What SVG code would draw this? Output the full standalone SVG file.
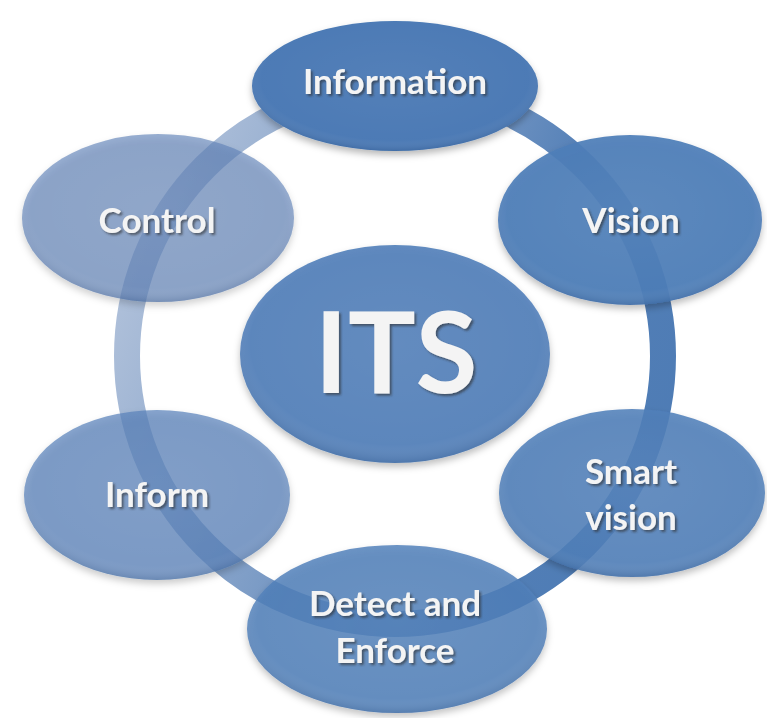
<svg xmlns="http://www.w3.org/2000/svg" width="767" height="718" viewBox="0 0 767 718">
  <defs>
    <linearGradient id="ringGrad" gradientUnits="userSpaceOnUse" x1="120" y1="200" x2="670" y2="420">
      <stop offset="0" stop-color="#5a7db2" stop-opacity="0.45"/>
      <stop offset="0.45" stop-color="#4a76b0" stop-opacity="0.72"/>
      <stop offset="0.7" stop-color="#4575b1" stop-opacity="0.92"/>
      <stop offset="1" stop-color="#4575b1" stop-opacity="0.95"/>
    </linearGradient>
    <radialGradient id="sheen" cx="0.5" cy="0.45" r="0.55">
      <stop offset="0" stop-color="#ffffff" stop-opacity="0.06"/>
      <stop offset="0.85" stop-color="#ffffff" stop-opacity="0.02"/>
      <stop offset="1" stop-color="#1c3a66" stop-opacity="0.18"/>
    </radialGradient>
    <filter id="shadow" x="-20%" y="-20%" width="140%" height="150%">
      <feDropShadow dx="0" dy="4" stdDeviation="3.5" flood-color="#000000" flood-opacity="0.28"/>
    </filter>
    <filter id="tshadow" x="-10%" y="-20%" width="130%" height="150%">
      <feDropShadow dx="2" dy="2" stdDeviation="1" flood-color="#2a2a2a" flood-opacity="0.6"/>
    </filter>
  </defs>
  <style>
    .lbl { font-family: Lato, "Open Sans", "Liberation Sans", sans-serif; font-weight: bold; font-size: 35px; fill: #f4f4f4; text-anchor: middle; filter: url(#tshadow); }
    .big { font-size: 113px; }
    .sheen { fill: url(#sheen); }
    .node { filter: url(#shadow); }
  </style>
  <rect width="767" height="718" fill="#ffffff"/>

  <g id="connectors">
    <circle cx="395" cy="356" r="268" fill="none" stroke="url(#ringGrad)" stroke-width="26"/>
  </g>

  <g id="node-control">
    <ellipse class="node" cx="158" cy="218" rx="136" ry="84" fill="#5a7fb5" fill-opacity="0.64"/>
    <ellipse class="sheen" cx="158" cy="218" rx="136" ry="84"/>
    <text class="lbl" x="157" y="233">Control</text>
  </g>

  <g id="node-inform">
    <ellipse class="node" cx="157" cy="495" rx="133" ry="85" fill="#5580b8" fill-opacity="0.72"/>
    <ellipse class="sheen" cx="157" cy="495" rx="133" ry="85"/>
    <text class="lbl" x="157" y="507">Inform</text>
  </g>

  <g id="node-detect">
    <ellipse class="node" cx="397" cy="629" rx="150" ry="84" fill="#4c7cb8" fill-opacity="0.83"/>
    <ellipse class="sheen" cx="397" cy="629" rx="150" ry="84"/>
    <text class="lbl" x="395" y="616">Detect and</text>
    <text class="lbl" x="395" y="663">Enforce</text>
  </g>

  <g id="node-smart-vision">
    <ellipse class="node" cx="632" cy="493" rx="133" ry="84" fill="#4c7cb8" fill-opacity="0.87"/>
    <ellipse class="sheen" cx="632" cy="493" rx="133" ry="84"/>
    <text class="lbl" x="631" y="484">Smart</text>
    <text class="lbl" x="631" y="530">vision</text>
  </g>

  <g id="node-vision">
    <ellipse class="node" cx="630" cy="220" rx="132" ry="85" fill="#4a7bb7" fill-opacity="0.93"/>
    <ellipse class="sheen" cx="630" cy="220" rx="132" ry="85"/>
    <text class="lbl" x="631" y="233">Vision</text>
  </g>

  <g id="node-information">
    <ellipse class="node" cx="395" cy="86" rx="143" ry="65" fill="#4878b4"/>
    <ellipse class="sheen" cx="395" cy="86" rx="143" ry="65"/>
    <text class="lbl" x="395" y="94">Information</text>
  </g>

  <g id="node-its">
    <ellipse class="node" cx="395" cy="354" rx="155" ry="109" fill="#4c7cb8" fill-opacity="0.9"/>
    <ellipse class="sheen" cx="395" cy="354" rx="155" ry="109"/>
    <text class="lbl big" x="396" y="393">ITS</text>
  </g>
</svg>
